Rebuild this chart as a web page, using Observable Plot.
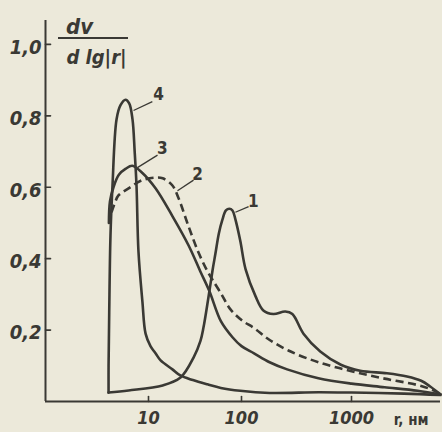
<!DOCTYPE html>
<html><head><meta charset="utf-8">
<script src="https://cdn.jsdelivr.net/npm/d3@7"></script>
<script src="https://cdn.jsdelivr.net/npm/@observablehq/plot@0.6"></script>
<style>
html,body{margin:0;padding:0;background:#ece9da;}
svg text{font-family:"DejaVu Sans Condensed","Liberation Sans Narrow","DejaVu Sans",sans-serif;}
</style></head><body><div id="chart"></div>
<script>
// r (nm), dv/dlg r
const curve1 = [[3.72,0.025],[6.1,0.031],[14.2,0.045],[22.1,0.067],[30.5,0.123],[36.2,0.17],[39,0.207],[44,0.29],[48.8,0.367],[52.5,0.415],[57,0.47],[62,0.507],[68,0.535],[74,0.54],[80,0.535],[86,0.51],[97,0.45],[109,0.37],[134,0.295],[158,0.255],[195,0.245],[250,0.252],[290,0.245],[366,0.19],[520,0.14],[800,0.103],[1200,0.086],[2100,0.079],[3200,0.07],[4300,0.058],[5200,0.042],[6442,0.02]];
const curve2 = [[4.0,0.53],[4.4,0.56],[4.75,0.577],[6.1,0.597],[8.6,0.62],[11.9,0.627],[14.2,0.625],[18.1,0.605],[21,0.57],[27,0.49],[34.5,0.417],[44,0.36],[49,0.34],[61,0.30],[75,0.26],[100,0.228],[131,0.205],[175,0.175],[270,0.142],[500,0.11],[1000,0.085],[2000,0.064],[4000,0.046],[5500,0.032],[6442,0.02]];
const curve3 = [[3.75,0.50],[3.85,0.56],[4.2,0.60],[4.8,0.635],[5.7,0.652],[6.7,0.66],[8.6,0.64],[11.9,0.597],[18,0.52],[27,0.437],[36,0.365],[45,0.31],[60,0.225],[80,0.18],[100,0.155],[130,0.135],[180,0.11],[260,0.09],[500,0.065],[1000,0.05],[2000,0.04],[4000,0.03],[6442,0.02]];
const curve4 = [[3.72,0.025],[3.72,0.1],[3.78,0.25],[3.9,0.465],[4.1,0.605],[4.53,0.79],[5.0,0.83],[5.66,0.845],[6.2,0.835],[6.73,0.79],[7.1,0.70],[7.43,0.605],[7.8,0.42],[8.6,0.28],[9.3,0.19],[10.5,0.155],[11.9,0.135],[13.5,0.115],[18.1,0.09],[22,0.073],[30,0.06],[43,0.048],[60,0.038],[97,0.03],[180,0.024],[500,0.026],[1000,0.025],[3000,0.022],[6442,0.018]];

const curveLabels = ["1","2","3","4"];
const labelPos = [[128,0.56],[33.7,0.636],[14.1,0.709],[12.8,0.86]];
const leaderFrom = [[86,0.53],[20.5,0.59],[7.6,0.655],[6.9,0.815]];
const leaderTo = [[116,0.546],[30.5,0.62],[12.5,0.69],[11.0,0.84]];

const xTicks = [10, 100, 1000];
const yTicks = [0.2, 0.4, 0.6, 0.8, 1.0];
const xLabel = "r, нм";
const yLabelTop = "dv";
const yLabelBottom = "d lg|r|";

const ink = "#3a3934";
const paper = "#ece9da";
const xMin = 0.78;
const toRows = arr => arr.map(([r, v]) => ({r, v}));
const labels = curveLabels.map((t, i) => ({t, r: labelPos[i][0], v: labelPos[i][1]}));
const leaders = curveLabels.map((t, i) => ({x1: leaderFrom[i][0], y1: leaderFrom[i][1], x2: leaderTo[i][0], y2: leaderTo[i][1]}));
const fmt = d => d.toFixed(1).replace(".", ",");
const lineOpts = {x: "r", y: "v", stroke: ink, strokeWidth: 2.6, curve: "catmull-rom", strokeLinejoin: "round", strokeLinecap: "round"};
const tickShape = {draw(context, l) { context.moveTo(0, 0); context.lineTo(0, -l); }};

const plot = Plot.plot({
  width: 442, height: 432,
  marginLeft: 45, marginRight: 2, marginTop: 20, marginBottom: 31,
  style: {background: paper, color: ink},
  x: {type: "log", domain: [xMin, 10, 100, 1000, 6450], range: [45, 148, 241, 351, 440]},
  y: {domain: [0, 1.067], range: [401, 20]},
  marks: [
    Plot.ruleX([xMin], {stroke: ink, strokeWidth: 2}),
    Plot.ruleY([0], {stroke: ink, strokeWidth: 2}),
    Plot.axisY(yTicks, {tickSize: 0, tickPadding: 4, tickFormat: fmt, label: null, fontSize: 20, fontWeight: "bold", fontStyle: "italic", dy: 3, fill: ink}),
    Plot.vector(yTicks, {x: () => xMin, y: d => d, length: 5, rotate: 90, anchor: "start", shape: tickShape, stroke: ink, strokeWidth: 1.6}),
    Plot.axisX(xTicks, {tickSize: 0, tickPadding: 10, tickFormat: d => String(d), label: null, fontSize: 18, fontWeight: "bold", fontStyle: "italic", fill: ink}),
    Plot.vector(xTicks, {x: d => d, y: () => 0, length: 5, rotate: 0, anchor: "start", shape: tickShape, stroke: ink, strokeWidth: 1.6}),
    Plot.line(toRows(curve4), lineOpts),
    Plot.line(toRows(curve1), lineOpts),
    Plot.line(toRows(curve3), lineOpts),
    Plot.line(toRows(curve2), {...lineOpts, strokeDasharray: "8,4.5", strokeLinecap: "butt"}),
    Plot.link(leaders, {x1: "x1", y1: "y1", x2: "x2", y2: "y2", stroke: ink, strokeWidth: 1.3}),
    Plot.text(labels, {x: "r", y: "v", text: "t", fontSize: 17, fontWeight: "bold", fill: ink}),
    Plot.text([yLabelTop], {frameAnchor: "top-left", textAnchor: "middle", lineAnchor: "middle", dx: 34, dy: 6, fontSize: 22, fontStyle: "italic", fontWeight: "bold", fill: ink}),
    Plot.text([yLabelBottom], {frameAnchor: "top-left", textAnchor: "middle", lineAnchor: "middle", dx: 51, dy: 37, fontSize: 20, fontStyle: "italic", fontWeight: "bold", fill: ink}),
    Plot.text([xLabel], {frameAnchor: "bottom-right", textAnchor: "end", lineAnchor: "middle", dx: -12, dy: 19, fontSize: 15, fontWeight: "bold", fill: ink})
  ]
});
d3.select(plot).append("line")
  .attr("x1", 58).attr("x2", 128).attr("y1", 38).attr("y2", 38)
  .attr("stroke", ink).attr("stroke-width", 2);
document.getElementById("chart").appendChild(plot);
</script></body></html>
